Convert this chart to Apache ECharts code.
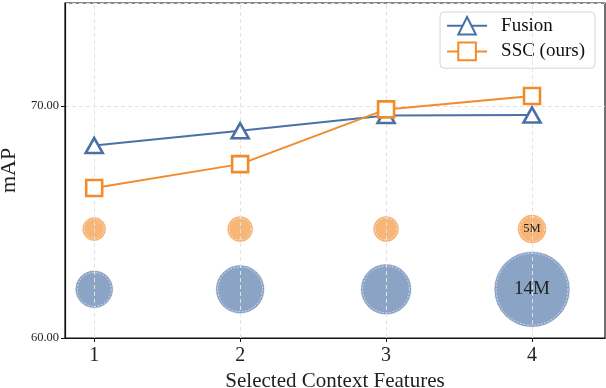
<!DOCTYPE html>
<html lang="en">
<head>
    <meta charset="UTF-8">
    <title>mAP vs selected context features</title>
    <script src="https://cdn.jsdelivr.net/npm/echarts@6/dist/echarts.min.js"></script>
    <style>
        body { margin: 0; background: #fff; }
    </style>
</head>
<body>
<div id="main" style="height:388px;width:606px"></div>

<script type="text/javascript">
    // data
    var features = [1, 2, 3, 4];
    var fusionMAP = [68.30, 68.94, 69.60, 69.62];
    var sscMAP = [66.47, 67.50, 69.86, 70.44];
    // parameter counts (M), drawn as bubbles
    var fusionParams = [3.4, 5.7, 6.2, 14];
    var sscParams = [3.4, 4.0, 4.0, 5];
    var fusionBubbleY = 62.1;
    var sscBubbleY = 64.7;
    var yTicks = [60, 70];

    var blue = '#4a71a6';
    var orange = '#f28b2c';
    var font = '"Liberation Serif", "DejaVu Serif", serif';

    function bubbleData(params, yVal, scale, labelIdx, labelSize) {
        return features.map(function (x, i) {
            var d = {
                value: [x, yVal],
                symbolSize: scale * Math.sqrt(params[i])
            };
            if (i === labelIdx) {
                d.label = {
                    show: true,
                    formatter: params[i] + 'M',
                    color: '#222',
                    fontFamily: font,
                    fontSize: labelSize
                };
            }
            return d;
        });
    }
    function ringData(params, yVal, scale) {
        return features.map(function (x, i) {
            return { value: [x, yVal], symbolSize: scale * Math.sqrt(params[i]) - 3 };
        });
    }

    var blueScale = 20.0, orangeScale = 12.5;

    var myChart = echarts.init(document.getElementById('main'));
    myChart.setOption({
        animation: false,
        grid: {
            left: 65, right: 1, top: 3, bottom: 50,
            outerBoundsMode: 'none', containLabel: false,
            show: true, borderColor: '#111', borderWidth: 1.2
        },
        legend: {
            top: 12, right: 11,
            orient: 'vertical',
            data: ['Fusion', 'SSC (ours)'],
            itemWidth: 40, itemHeight: 22, itemGap: 6,
            padding: [4, 10, 7, 6],
            backgroundColor: '#fff',
            borderColor: '#d6d6d6', borderWidth: 1, borderRadius: 4,
            textStyle: { fontFamily: font, fontSize: 19, color: '#111', padding: [0, 0, 0, 9] }
        },
        xAxis: {
            type: 'value',
            min: 0.8, max: 4.5,
            name: 'Selected Context Features',
            nameLocation: 'middle', nameGap: 32,
            nameTextStyle: { fontFamily: font, fontSize: 21, color: '#222' },
            axisLine: { show: true, onZero: false, lineStyle: { color: '#111', width: 1.2 } },
            axisTick: { show: true, customValues: features, length: 4, lineStyle: { color: '#111' } },
            axisLabel: { customValues: features, fontFamily: font, fontSize: 20, color: '#222', margin: 8 },
            splitLine: { show: false }
        },
        yAxis: {
            type: 'value',
            min: 60, max: 74.45, interval: 10,
            name: 'mAP',
            nameLocation: 'middle', nameGap: 40,
            nameTextStyle: { fontFamily: font, fontSize: 22, color: '#222' },
            axisLine: { show: true, lineStyle: { color: '#111', width: 1.2 } },
            axisTick: { show: true, length: 4, lineStyle: { color: '#111' } },
            axisLabel: {
                showMaxLabel: false, fontFamily: font, fontSize: 12.5, color: '#222', margin: 6,
                formatter: function (v) { return v.toFixed(2); }
            },
            splitLine: { show: true, lineStyle: { color: '#e2e2e2', type: [4, 3], width: 1 } }
        },
        series: [
            {
                name: 'grid-x', type: 'line', data: [], silent: true,
                markLine: {
                    silent: true, symbol: 'none', label: { show: false },
                    lineStyle: { color: '#e2e2e2', type: [4, 3], width: 1 },
                    data: features.map(function (x) { return { xAxis: x }; })
                }
            },
            {
                name: 'fusionParams', type: 'scatter', z: 2,
                data: bubbleData(fusionParams, fusionBubbleY, blueScale, 3, 19),
                itemStyle: { color: 'rgba(74,113,166,0.64)', borderColor: 'rgba(74,113,166,0.3)', borderWidth: 1, opacity: 1 }
            },
            {
                name: 'fusionRing', type: 'scatter', z: 3, silent: true,
                data: ringData(fusionParams, fusionBubbleY, blueScale),
                itemStyle: { color: 'rgba(0,0,0,0)', borderColor: 'rgba(255,255,255,0.9)', borderWidth: 0.8, borderType: [2, 1.5] }
            },
            {
                name: 'sscParams', type: 'scatter', z: 2,
                data: bubbleData(sscParams, sscBubbleY, orangeScale, 3, 12.5),
                itemStyle: { color: 'rgba(242,139,44,0.64)', borderColor: 'rgba(242,139,44,0.3)', borderWidth: 1, opacity: 1 }
            },
            {
                name: 'sscRing', type: 'scatter', z: 3, silent: true,
                data: ringData(sscParams, sscBubbleY, orangeScale),
                itemStyle: { color: 'rgba(0,0,0,0)', borderColor: 'rgba(255,255,255,0.9)', borderWidth: 0.8, borderType: [2, 1.5] }
            },
            {
                name: 'Fusion', type: 'line', z: 5,
                data: features.map(function (x, i) { return [x, fusionMAP[i]]; }),
                symbol: 'triangle', symbolSize: [17, 15], showAllSymbol: true,
                lineStyle: { color: blue, width: 2 },
                itemStyle: { color: '#fff', borderColor: blue, borderWidth: 2.6 }
            },
            {
                name: 'SSC (ours)', type: 'line', z: 6,
                data: features.map(function (x, i) { return [x, sscMAP[i]]; }),
                symbol: 'rect', symbolSize: 16, showAllSymbol: true,
                lineStyle: { color: orange, width: 2 },
                itemStyle: { color: '#fff', borderColor: orange, borderWidth: 2.6 }
            }
        ]
    });
</script>
</body>
</html>
